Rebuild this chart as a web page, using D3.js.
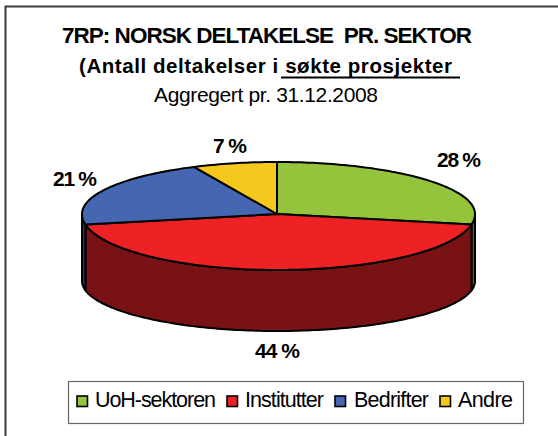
<!DOCTYPE html>
<html><head><meta charset="utf-8">
<script src="https://cdn.jsdelivr.net/npm/d3@7/dist/d3.min.js"></script>
<style>html,body{margin:0;padding:0;background:#fff}svg{display:block}text{font-family:"Liberation Sans",Arial,sans-serif;fill:#000;white-space:pre}</style>
</head><body><svg id="c" width="558" height="436"></svg>
<script>
const categories = ["UoH-sektoren","Institutter","Bedrifter","Andre"];
const values = [28,44,21,7];
const labels = ["28 %","44 %","21 %","7 %"];
const topColors = ["#93c43b","#ee2224","#4566b0","#f6c81e"];
const sideColors = ["#4a6a22","#781214","#24365f","#8a6f10"];
const titleText = "7RP: NORSK DELTAKELSE  PR. SEKTOR";
const subtitleText = "(Antall deltakelser i søkte prosjekter";
const dateText = "Aggregert pr. 31.12.2008";

const svg = d3.select("#c");
const cx=277, cy=214, rxL=195, rxR=198, ryT=52, ryB=56, baseDrop=67, baseRy=50;
const xS = d3.scaleLinear().domain([-1,0,1]).range([cx-rxL,cx,cx+rxR]);
const yS = d3.scaleLinear().domain([-1,0,1]).range([cy-ryT,cy,cy+ryB]);
const proj = a=>[xS(Math.sin(a)), yS(-Math.cos(a))];
const projBase = a=>[xS(Math.sin(a)), cy+baseDrop-Math.cos(a)*baseRy];
const arcs = d3.pie().sort(null).value(d=>d)(values);
const samples=(a0,a1)=>{const n=Math.max(2,Math.ceil((a1-a0)/0.02));return d3.range(n+1).map(i=>a0+(a1-a0)*i/n);};
const line=d3.line();

// frame
svg.append("path").attr("d","M558,6.5H5.5V436").attr("fill","none").attr("stroke","#3a3a3a").attr("stroke-width",2);

// fitted text helper
const put=(t,x,y,w,size,bold)=>svg.append("text").attr("x",x).attr("y",y).attr("font-size",size)
  .attr("font-weight",bold?"bold":"normal").attr("textLength",w).attr("lengthAdjust","spacing").text(t);

put(titleText,62,43,410,22.5,true);
put(subtitleText,79,72.5,373,20.5,true);
svg.append("line").attr("x1",281).attr("x2",460).attr("y1",77.5).attr("y2",77.5).attr("stroke","#000").attr("stroke-width",2);
put(dateText,154,102,224,21,false);

// sides
const Q=Math.PI/2;
const g=svg.append("g").attr("stroke","#000").attr("stroke-width",2).attr("stroke-linejoin","round");
arcs.forEach((d,i)=>{
  const a0=Math.max(d.startAngle,Q), a1=Math.min(d.endAngle,3*Q);
  if(a1<=a0) return;
  const s=samples(a0,a1);
  const pts=s.map(proj).concat(s.slice().reverse().map(projBase));
  g.append("path").attr("d",line(pts)+"Z").attr("fill",sideColors[i]);
});
// tops
arcs.forEach((d,i)=>{
  const pts=[[cx,cy]].concat(samples(d.startAngle,d.endAngle).map(proj));
  g.append("path").attr("d",line(pts)+"Z").attr("fill",topColors[i]);
});

// data labels
const lp=[[437,167,44],[255,358,45],[53,186,44],[213,153,34]];
labels.forEach((t,i)=>put(t,lp[i][0],lp[i][1],lp[i][2],21,true));

// legend
svg.append("rect").attr("x",68.5).attr("y",381.5).attr("width",455).attr("height",42).attr("fill","#fff").attr("stroke","#666").attr("stroke-width",1.2);
const sx=[76,226,334,439], tx=[95,245,354,458], tw=[121,79,75,55];
categories.forEach((c,i)=>{
  svg.append("rect").attr("x",sx[i]+1).attr("y",396).attr("width",10.5).attr("height",10.5).attr("fill",topColors[i]).attr("stroke","#000").attr("stroke-width",1.6);
  put(c,tx[i],407,tw[i],21.5,false);
});
</script></body></html>
